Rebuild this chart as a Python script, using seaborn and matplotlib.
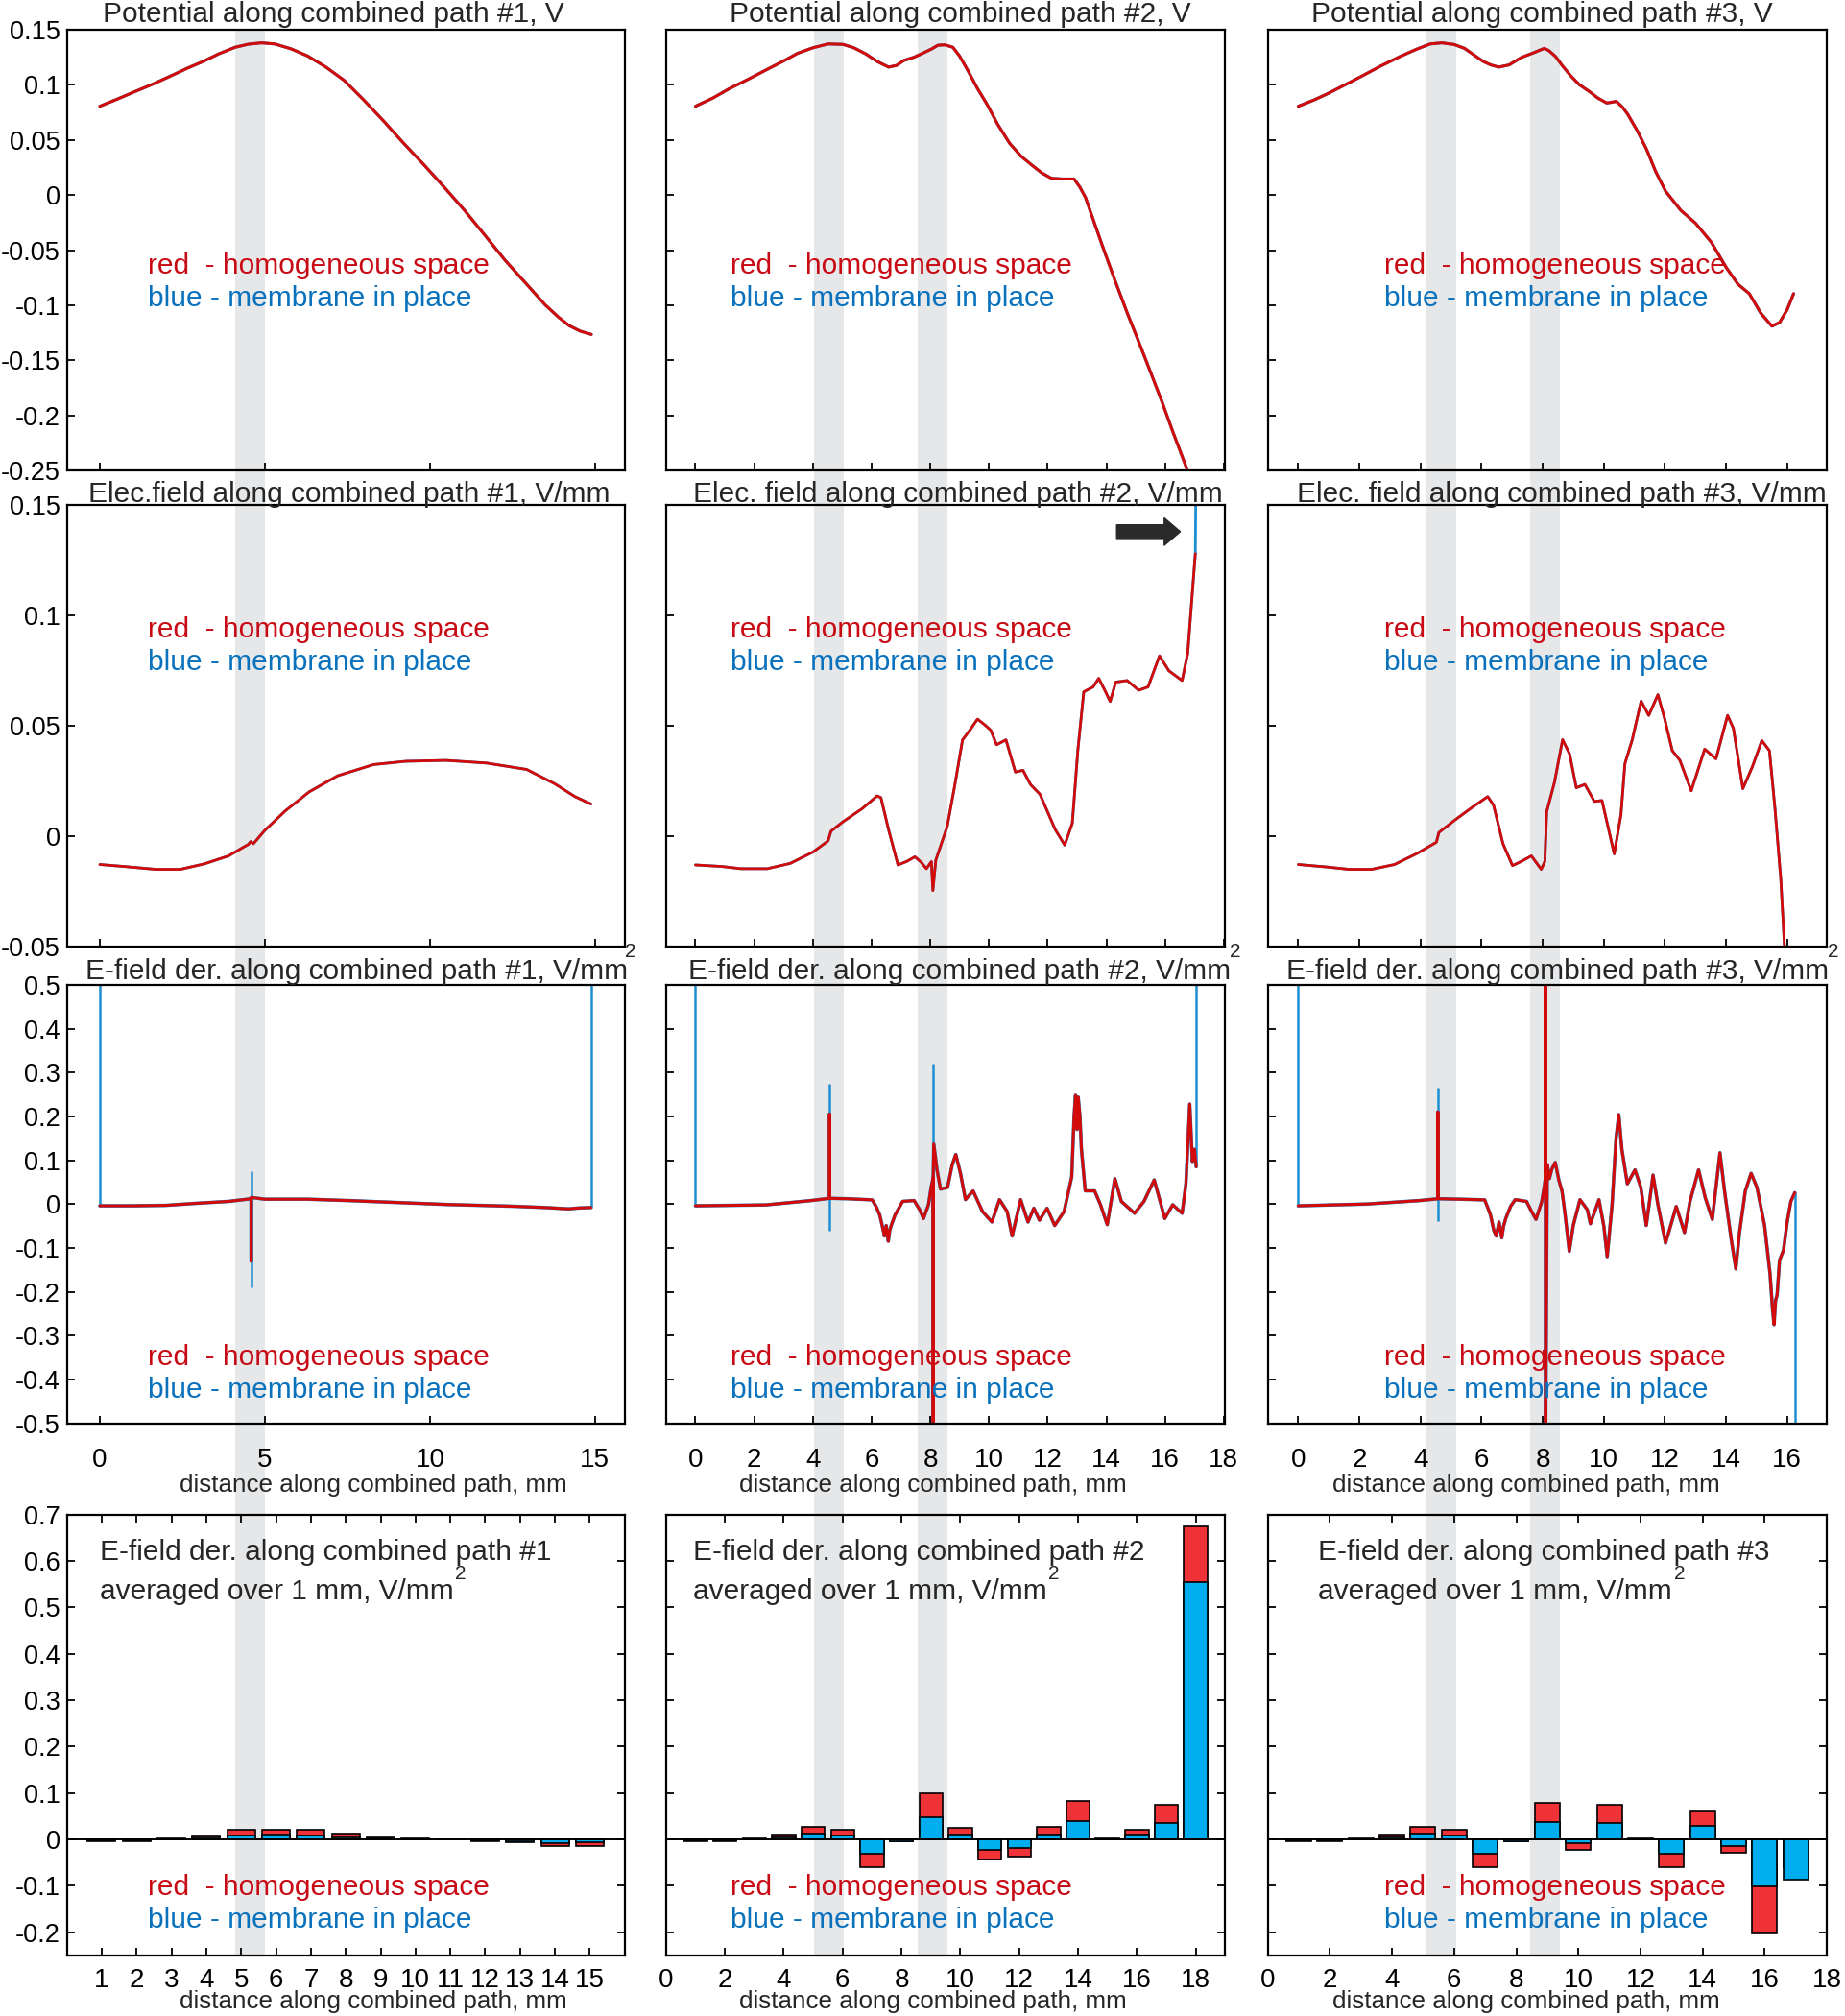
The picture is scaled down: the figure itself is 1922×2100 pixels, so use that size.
# Fields along the three combined paths: potential, field, field derivative, 1 mm averages

import matplotlib
matplotlib.use("Agg")
import matplotlib.pyplot as plt
import matplotlib.transforms as mtransforms
from matplotlib.patches import Rectangle
import seaborn as sns

sns.set_theme(style="ticks")
plt.rcParams['font.family'] = ['Liberation Sans', 'DejaVu Sans']
plt.rcParams['axes.unicode_minus'] = False


# Data

# row 1 - potential, V
pot1_x = [0, 0.5, 1.05, 1.6, 2.15, 2.65, 3.12, 3.6, 4.1, 4.5, 4.9, 5.3, 5.8, 6.3, 6.85, 7.4, 8.0, 8.6, 9.2, 9.83,
          10.45, 11.05, 11.65, 12.27, 12.9, 13.49, 13.9, 14.22, 14.55, 14.89]
pot1_y = [0.0805, 0.0866, 0.0936, 0.1005, 0.108, 0.115, 0.121, 0.128, 0.134, 0.1368, 0.138, 0.137, 0.1325, 0.126,
          0.116, 0.104, 0.086, 0.067, 0.047, 0.027, 0.0065, -0.014, -0.036, -0.059, -0.08, -0.0997, -0.111, -0.1186,
          -0.1235, -0.1265]
pot2_x = [0, 0.6, 1.16, 1.8, 2.45, 3.0, 3.48, 4.0, 4.52, 5.03, 5.4, 5.8, 6.2, 6.58, 6.85, 7.1, 7.45, 7.74, 8.05, 8.26,
          8.5, 8.77, 9.0, 9.29, 9.6, 9.94, 10.3, 10.7, 11.1, 11.48, 11.8, 12.13, 12.5, 12.9, 13.1, 13.29, 13.6, 13.94,
          14.3, 14.71, 15.1, 15.48, 15.9, 16.26, 16.75]
pot2_y = [0.0805, 0.088, 0.0965, 0.105, 0.114, 0.1215, 0.1285, 0.1335, 0.137, 0.1366, 0.1335, 0.128, 0.121, 0.116,
          0.1175, 0.122, 0.125, 0.1285, 0.1325, 0.1358, 0.1362, 0.134, 0.126, 0.1125, 0.097, 0.082, 0.064, 0.047,
          0.035, 0.0267, 0.02, 0.0151, 0.0145, 0.0145, 0.007, -0.0023, -0.026, -0.0517, -0.078, -0.107, -0.133,
          -0.159, -0.188, -0.2145, -0.249]
pot3_x = [0, 0.5, 0.97, 1.5, 2.09, 2.7, 3.33, 3.85, 4.32, 4.7, 5.1, 5.44, 5.75, 6.06, 6.3, 6.56, 6.9, 7.3, 7.7, 8.05,
          8.2, 8.42, 8.65, 8.92, 9.2, 9.54, 9.8, 10.1, 10.41, 10.6, 10.78, 11.1, 11.4, 11.7, 12.02, 12.52, 13.0, 13.52,
          14.01, 14.39, 14.76, 15.13, 15.5, 15.75, 16.0, 16.21]
pot3_y = [0.0805, 0.086, 0.092, 0.0995, 0.108, 0.117, 0.1256, 0.132, 0.137, 0.138, 0.1365, 0.133, 0.127, 0.121, 0.118,
          0.116, 0.118, 0.1247, 0.129, 0.133, 0.131, 0.1256, 0.117, 0.108, 0.1, 0.0936, 0.088, 0.0834, 0.0849, 0.080,
          0.0733, 0.058, 0.0413, 0.021, 0.0035, -0.014, -0.0256, -0.043, -0.066, -0.081, -0.0895, -0.107, -0.119,
          -0.1157, -0.104, -0.0895]

# row 2 - electric field, V/mm
ef1_x = [0, 0.73, 1.7, 2.44, 3.17, 3.9, 4.39, 4.5, 4.57, 4.65, 5.0, 5.61, 6.34, 7.2, 8.29, 9.27, 10.49, 11.71, 12.93,
         13.78, 14.39, 14.88]
ef1_y = [-0.0129, -0.0138, -0.0151, -0.0151, -0.0126, -0.009, -0.0047, -0.0038, -0.0025, -0.0035, 0.0026, 0.0113,
         0.020, 0.0273, 0.0324, 0.0339, 0.0343, 0.0331, 0.0302, 0.0237, 0.0179, 0.0145]
ef2_x = [0, 0.9, 1.55, 2.45, 3.23, 4.0, 4.52, 4.62, 5.03, 5.68, 6.19, 6.32, 6.58, 6.9, 7.2, 7.48, 7.7, 7.87, 8.04,
         8.09, 8.19, 8.58, 8.84, 9.1, 9.35, 9.61, 9.85, 10.06, 10.26, 10.58, 10.9, 11.16, 11.42, 11.74, 12.0, 12.26,
         12.58, 12.84, 13.03, 13.23, 13.55, 13.74, 13.95, 14.13, 14.32, 14.71, 15.1, 15.42, 15.81, 16.13, 16.58,
         16.77, 17.03]
ef2_y = [-0.0131, -0.0138, -0.0148, -0.0148, -0.0124, -0.0073, -0.0022, 0.0022, 0.0065, 0.0124, 0.0182, 0.0174,
         0.0029, -0.0131, -0.0115, -0.0094, -0.012, -0.0148, -0.0116, -0.0247, -0.0109, 0.0044, 0.0233, 0.0436,
         0.048, 0.053, 0.0505, 0.048, 0.0414, 0.0436, 0.029, 0.0298, 0.0233, 0.0189, 0.0109, 0.0029, -0.0041, 0.0058,
         0.0392, 0.0654, 0.0676, 0.0715, 0.066, 0.061, 0.0698, 0.0705, 0.0661, 0.0676, 0.0817, 0.0749, 0.0705,
         0.0828, 0.128]
ef3_x = [0, 0.91, 1.66, 2.4, 3.15, 3.9, 4.52, 4.6, 5.14, 5.64, 6.2, 6.39, 6.7, 7.01, 7.3, 7.63, 7.95, 8.07, 8.13,
         8.38, 8.65, 8.88, 9.1, 9.38, 9.69, 9.94, 10.12, 10.34, 10.56, 10.69, 10.93, 11.22, 11.47, 11.77, 11.99,
         12.24, 12.49, 12.86, 13.3, 13.67, 14.05, 14.24, 14.55, 14.86, 15.17, 15.42, 15.6, 15.79, 15.95]
ef3_y = [-0.0129, -0.014, -0.0151, -0.0151, -0.0129, -0.0078, -0.0028, 0.0016, 0.0074, 0.0125, 0.0179, 0.014,
         -0.0035, -0.0134, -0.0115, -0.009, -0.0151, -0.0115, 0.011, 0.0241, 0.0437, 0.0372, 0.0219, 0.0234, 0.0157,
         0.0161, 0.0052, -0.0081, 0.0096, 0.0328, 0.0437, 0.0612, 0.0547, 0.0641, 0.0532, 0.0387, 0.0343, 0.0205,
         0.0394, 0.035, 0.0547, 0.0488, 0.0215, 0.0314, 0.0433, 0.0387, 0.0125, -0.0195, -0.06]
# the blue (membrane) trace on path #2 goes on past the top of the plot
ef2_blue_x = [17.03, 17.05]
ef2_blue_y = [0.128, 0.16]

# row 3 - field derivative, V/mm^2 (red trace; blue follows it except for the spikes)
der1_x = [0, 1.0, 2.0, 3.0, 3.9, 4.585, 4.585, 4.585, 5.0, 6.3, 7.5, 8.5, 9.5, 10.5, 11.5, 12.5, 13.5, 14.2, 14.5,
          14.88]
der1_y = [-0.004, -0.004, -0.003, 0.002, 0.006, 0.012, -0.13, 0.015, 0.011, 0.011, 0.008, 0.005, 0.002, -0.001,
          -0.003, -0.005, -0.008, -0.011, -0.009, -0.008]
der2_x = [0, 2.4, 3.95, 4.57, 4.57, 4.57, 5.2, 6.02, 6.15, 6.28, 6.4, 6.44, 6.5, 6.57, 6.62, 6.67, 6.8, 7.06, 7.45,
          7.64, 7.77, 7.94, 8.03, 8.1, 8.1, 8.1, 8.12, 8.23, 8.35, 8.59, 8.75, 8.87, 9.03, 9.2, 9.46, 9.78, 10.1,
          10.36, 10.62, 10.79, 11.08, 11.33, 11.53, 11.72, 11.98, 12.24, 12.56, 12.82, 12.9, 12.95, 13.0, 13.04, 13.1,
          13.15, 13.28, 13.6, 13.8, 14.03, 14.29, 14.51, 14.96, 15.28, 15.63, 15.99, 16.26, 16.58, 16.71, 16.84,
          16.93, 17.0, 17.06]
der2_y = [-0.004, -0.002, 0.008, 0.013, 0.205, 0.013, 0.012, 0.0095, -0.005, -0.025, -0.06, -0.073, -0.049, -0.085,
          -0.06, -0.049, -0.025, 0.006, 0.008, -0.013, -0.033, -0.0016, 0.038, 0.06, -0.6, 0.06, 0.137, 0.078, 0.034,
          0.038, 0.09, 0.113, 0.07, 0.01, 0.03, -0.017, -0.041, 0.01, -0.017, -0.073, 0.01, -0.041, -0.0095, -0.037,
          -0.0095, -0.049, -0.017, 0.062, 0.2, 0.248, 0.17, 0.244, 0.2, 0.125, 0.03, 0.03, -0.0016, -0.047, 0.058,
          0.006, -0.021, 0.006, 0.055, -0.033, -0.0016, -0.021, 0.046, 0.228, 0.097, 0.125, 0.085]
der3_x = [0, 2.24, 3.99, 4.57, 4.57, 4.57, 5.3, 6.1, 6.2, 6.29, 6.4, 6.48, 6.57, 6.66, 6.72, 6.79, 6.95, 7.1, 7.47,
          7.62, 7.78, 7.97, 8.05, 8.09, 8.09, 8.09, 8.15, 8.22, 8.3, 8.41, 8.53, 8.63, 8.72, 8.87, 9.0, 9.22, 9.46,
          9.56, 9.84, 10.0, 10.11, 10.27, 10.4, 10.49, 10.59, 10.77, 11.02, 11.21, 11.39, 11.61, 11.77, 12.02, 12.37,
          12.64, 12.82, 13.1, 13.32, 13.55, 13.8, 13.95, 14.17, 14.32, 14.44, 14.63, 14.82, 15.01, 15.26, 15.44,
          15.52, 15.57, 15.62, 15.67, 15.75, 15.88, 16.0, 16.12, 16.25]
der3_y = [-0.004, 0.0, 0.008, 0.012, 0.21, 0.012, 0.011, 0.0095, -0.008, -0.025, -0.06, -0.073, -0.041, -0.077,
          -0.05, -0.033, -0.005, 0.01, 0.006, -0.015, -0.035, 0.006, 0.04, 0.06, 0.6, -0.6, 0.09, 0.058, 0.08, 0.095,
          0.054, 0.03, -0.017, -0.108, -0.049, 0.01, -0.013, -0.045, 0.01, -0.05, -0.12, -0.0016, 0.15, 0.204, 0.125,
          0.046, 0.078, 0.038, -0.049, 0.066, -0.0016, -0.089, -0.0055, -0.065, 0.006, 0.078, 0.014, -0.035, 0.117,
          0.03, -0.081, -0.148, -0.065, 0.03, 0.07, 0.038, -0.049, -0.16, -0.24, -0.275, -0.22, -0.207, -0.128,
          -0.105, -0.041, 0.006, 0.026]
# blue-only spikes: position, low end, high end
spike1_x = [0, 4.585, 14.88]
spike1_lo = [-0.004, -0.19, -0.008]
spike1_hi = [0.6, 0.075, 0.6]
spike2_x = [0, 4.57, 8.1, 17.06]
spike2_lo = [-0.004, -0.06, -0.6, 0.085]
spike2_hi = [0.6, 0.274, 0.32, 0.6]
spike3_x = [0, 4.57, 8.09, 16.25]
spike3_lo = [-0.004, -0.04, 0.05, -0.6]
spike3_hi = [0.6, 0.265, 0.12, 0.026]

# row 4 - derivative averaged over 1 mm
avg1_pos = list(range(1, 16))
avg1_red = [-0.003, -0.003, 0.002, 0.009, 0.02, 0.022, 0.02, 0.012, 0.004, 0.002, 0.0, -0.003, -0.005, -0.015, -0.015]
avg1_blue = [-0.002, -0.002, 0.001, 0.005, 0.009, 0.011, 0.009, 0.005, 0.003, 0.001, 0.0, -0.002, -0.004, -0.007,
             -0.006]
avg2_pos = list(range(1, 19))
avg2_red = [-0.003, -0.003, 0.002, 0.01, 0.028, 0.02, -0.06, -0.004, 0.1, 0.025, -0.043, -0.036, 0.028, 0.083, 0.002,
            0.022, 0.074, 0.674]
avg2_blue = [-0.002, -0.002, 0.001, 0.005, 0.012, 0.008, -0.031, -0.003, 0.048, 0.01, -0.022, -0.018, 0.011, 0.04,
             0.001, 0.01, 0.035, 0.554]
avg3_pos = list(range(1, 18))
avg3_red = [-0.003, -0.003, 0.002, 0.01, 0.028, 0.02, -0.06, -0.004, 0.079, -0.022, 0.074, 0.002, -0.06, 0.063,
            -0.028, -0.203, -0.06]
avg3_blue = [-0.002, -0.002, 0.001, 0.005, 0.012, 0.008, -0.031, -0.003, 0.038, -0.009, 0.035, 0.001, -0.031, 0.03,
             -0.014, -0.101, -0.086]

# membrane positions (grey bands), mm along the path
bands = [[(4.1, 5.0)], [(4.05, 5.07), (7.57, 8.6)], [(4.18, 5.16), (7.6, 8.57)]]

titles_pot = ["Potential along combined path #1, V", "Potential along combined path #2, V",
              "Potential along combined path #3, V"]
titles_ef = ["Elec.field along combined path #1, V/mm", "Elec. field along combined path #2, V/mm",
             "Elec. field along combined path #3, V/mm"]
titles_der = ["E-field der. along combined path #1, V/mm", "E-field der. along combined path #2, V/mm",
              "E-field der. along combined path #3, V/mm"]
titles_avg = ["E-field der. along combined path #1", "E-field der. along combined path #2",
              "E-field der. along combined path #3"]
avg_line2 = "averaged over 1 mm, V/mm"
xlabel = "distance along combined path, mm"
note_red = "red  - homogeneous space"
note_blue = "blue - membrane in place"

pot_ticks = [-0.25, -0.2, -0.15, -0.1, -0.05, 0, 0.05, 0.1, 0.15]
pot_labels = ["-0.25", "-0.2", "-0.15", "-0.1", "-0.05", "0", "0.05", "0.1", "0.15"]
ef_ticks = [-0.05, 0, 0.05, 0.1, 0.15]
ef_labels = ["-0.05", "0", "0.05", "0.1", "0.15"]
der_ticks = [-0.5, -0.4, -0.3, -0.2, -0.1, 0, 0.1, 0.2, 0.3, 0.4, 0.5]
der_labels = ["-0.5", "-0.4", "-0.3", "-0.2", "-0.1", "0", "0.1", "0.2", "0.3", "0.4", "0.5"]
avg_ticks = [-0.2, -0.1, 0, 0.1, 0.2, 0.3, 0.4, 0.5, 0.6, 0.7]
avg_labels = ["-0.2", "-0.1", "0", "0.1", "0.2", "0.3", "0.4", "0.5", "0.6", "0.7"]


# Style

RED_LINE = "#d20a0a"
BLUE_LINE = "#1c8fd3"
RED_TEXT = "#c80a14"
BLUE_TEXT = "#0a72bd"
RED_BAR = "#ee3237"
BLUE_BAR = "#00aeef"
BAND = "#e6e7e9"
FS = 20       # tick labels
FS_T = 21.5   # titles and notes
FS_X = 18.7   # x axis label

fig = plt.figure(figsize=(19.22, 21.0), dpi=100)

col_left = [0.0362, 0.361, 0.6871]
col_width = [0.3024, 0.3031, 0.3031]
row_bottom = [0.7666, 0.5306, 0.294, 0.030]
row_height = [0.2187, 0.2188, 0.2175, 0.2187]

axes = [[fig.add_axes([col_left[c], row_bottom[r], col_width[c], row_height[r]]) for c in range(3)]
        for r in range(4)]

line_xlim = [(-1, 15.9), (-1, 18.05), (-1, 17.3)]
line_xticks = [[0, 5, 10, 15], list(range(0, 19, 2)), list(range(0, 17, 2))]
bar_xlim = [(0, 16), (0, 19), (0, 18)]
bar_xticks = [list(range(1, 16)), list(range(0, 19, 2)), list(range(0, 19, 2))]

note_x = [0.145, 0.115, 0.209]


def style(ax, both_sides=False):
    ax.set_facecolor("none")
    for s in ax.spines.values():
        s.set_visible(True)
        s.set_color("black")
        s.set_linewidth(1.6)
    ax.tick_params(direction="in", length=6, width=1.3, colors="black", labelsize=FS,
                   top=both_sides, right=both_sides)
    ax.tick_params(axis="y", pad=5, labelsize=19.5)
    ax.set_xlabel("")
    ax.set_ylabel("")


def notes(ax, x, y_red, y_blue):
    ax.text(x, y_red, note_red, color=RED_TEXT, fontsize=FS_T, transform=ax.transAxes, va="center", ha="left")
    ax.text(x, y_blue, note_blue, color=BLUE_TEXT, fontsize=FS_T, transform=ax.transAxes, va="center", ha="left")


def line(ax, xs, ys, color, lw):
    sns.lineplot(x=xs, y=ys, ax=ax, color=color, lw=lw, estimator=None, sort=False)


# Row 1 - potential
pots = [(pot1_x, pot1_y), (pot2_x, pot2_y), (pot3_x, pot3_y)]
pot_title_x = [0.477, 0.526, 0.49]
for c in range(3):
    ax = axes[0][c]
    line(ax, pots[c][0], pots[c][1], BLUE_LINE, 2.2)
    line(ax, pots[c][0], pots[c][1], RED_LINE, 2.2)
    ax.set_xlim(*line_xlim[c])
    ax.set_ylim(-0.25, 0.15)
    ax.set_xticks(line_xticks[c])
    ax.set_xticklabels([])
    ax.set_yticks(pot_ticks)
    ax.set_yticklabels(pot_labels if c == 0 else [])
    style(ax)
    ax.text(pot_title_x[c], 1.017, titles_pot[c], transform=ax.transAxes, ha="center", va="baseline", fontsize=FS_T)
    notes(ax, note_x[c], 0.4636, 0.39)

# Row 2 - electric field
efs = [(ef1_x, ef1_y), (ef2_x, ef2_y), (ef3_x, ef3_y)]
ef_title_x = [0.506, 0.522, 0.526]
for c in range(3):
    ax = axes[1][c]
    line(ax, efs[c][0], efs[c][1], BLUE_LINE, 2.0)
    if c == 1:
        line(ax, ef2_blue_x, ef2_blue_y, BLUE_LINE, 2.0)
    line(ax, efs[c][0], efs[c][1], RED_LINE, 2.0)
    ax.set_xlim(*line_xlim[c])
    ax.set_ylim(-0.05, 0.15)
    ax.set_xticks(line_xticks[c])
    ax.set_xticklabels([])
    ax.set_yticks(ef_ticks)
    ax.set_yticklabels(ef_labels if c == 0 else [])
    style(ax)
    ax.text(ef_title_x[c], 1.008, titles_ef[c], transform=ax.transAxes, ha="center", va="baseline", fontsize=FS_T)
    notes(ax, note_x[c], 0.717, 0.644)

axes[1][1].arrow(14.35, 0.138, 2.17, 0, width=0.0062, head_width=0.0125, head_length=0.55,
                 length_includes_head=True, fc="#2a2a2a", ec="#2a2a2a", zorder=5)

# Row 3 - field derivative
ders = [(der1_x, der1_y), (der2_x, der2_y), (der3_x, der3_y)]
spikes = [(spike1_x, spike1_lo, spike1_hi), (spike2_x, spike2_lo, spike2_hi), (spike3_x, spike3_lo, spike3_hi)]
der_title_x = [0.52, 0.525, 0.518]
sup_x = [1.011, 1.018, 1.011]
xlabel_x = [0.55, 0.477, 0.462]
for c in range(3):
    ax = axes[2][c]
    line(ax, ders[c][0], ders[c][1], BLUE_LINE, 2.6)
    ax.vlines(spikes[c][0], spikes[c][1], spikes[c][2], color=BLUE_LINE, lw=1.8)
    line(ax, ders[c][0], ders[c][1], RED_LINE, 2.2)
    ax.set_xlim(*line_xlim[c])
    ax.set_ylim(-0.5, 0.5)
    ax.set_xticks(line_xticks[c])
    ax.set_xticklabels([str(t) for t in line_xticks[c]])
    ax.set_yticks(der_ticks)
    ax.set_yticklabels(der_labels if c == 0 else [])
    style(ax)
    ax.tick_params(axis="x", pad=18)
    ax.text(der_title_x[c], 1.012, titles_der[c], transform=ax.transAxes, ha="center", va="baseline", fontsize=FS_T)
    ax.text(sup_x[c], 1.076, "2", transform=ax.transAxes, ha="center", va="center", fontsize=15)
    ax.text(xlabel_x[c], -0.141, xlabel, transform=ax.transAxes, ha="center", va="center", fontsize=FS_X)
    notes(ax, note_x[c], 0.1496, 0.076)

# Row 4 - averages over 1 mm
avgs = [(avg1_pos, avg1_red, avg1_blue), (avg2_pos, avg2_red, avg2_blue), (avg3_pos, avg3_red, avg3_blue)]
avg_text_x = [0.06, 0.048, 0.09]
avg_sup_x = [0.705, 0.694, 0.736]
for c in range(3):
    ax = axes[3][c]
    pos, red, blue = avgs[c]
    sns.barplot(x=pos, y=red, ax=ax, native_scale=True, color=RED_BAR, saturation=1, width=0.8,
                edgecolor="black", linewidth=1.2, errorbar=None)
    sns.barplot(x=pos, y=blue, ax=ax, native_scale=True, color=BLUE_BAR, saturation=1, width=0.8,
                edgecolor="black", linewidth=1.2, errorbar=None)
    ax.axhline(0, color="black", lw=1.4, zorder=3)
    ax.set_xlim(*bar_xlim[c])
    ax.set_ylim(-0.25, 0.7)
    ax.set_xticks(bar_xticks[c])
    ax.set_xticklabels([str(t) for t in bar_xticks[c]])
    ax.set_yticks(avg_ticks)
    ax.set_yticklabels(avg_labels if c == 0 else [])
    style(ax, both_sides=True)
    ax.tick_params(axis="x", pad=9)
    ax.text(avg_text_x[c], 0.915, titles_avg[c], transform=ax.transAxes, ha="left", va="center", fontsize=FS_T)
    ax.text(avg_text_x[c], 0.825, avg_line2, transform=ax.transAxes, ha="left", va="center", fontsize=FS_T)
    ax.text(avg_sup_x[c], 0.866, "2", transform=ax.transAxes, ha="center", va="center", fontsize=15)
    ax.text(xlabel_x[c], -0.105, xlabel, transform=ax.transAxes, ha="center", va="center", fontsize=FS_X)
    notes(ax, note_x[c], 0.1545, 0.0816)

# Grey membrane bands, running through all four rows of a column
band_bottom = row_bottom[3]
band_top = row_bottom[0] + row_height[0]
for c in range(3):
    trans = mtransforms.blended_transform_factory(axes[2][c].transData, fig.transFigure)
    for x0, x1 in bands[c]:
        fig.add_artist(Rectangle((x0, band_bottom), x1 - x0, band_top - band_bottom, transform=trans,
                                 facecolor=BAND, edgecolor="none", zorder=-1))

fig.savefig("out.png", dpi=100, facecolor="white")
